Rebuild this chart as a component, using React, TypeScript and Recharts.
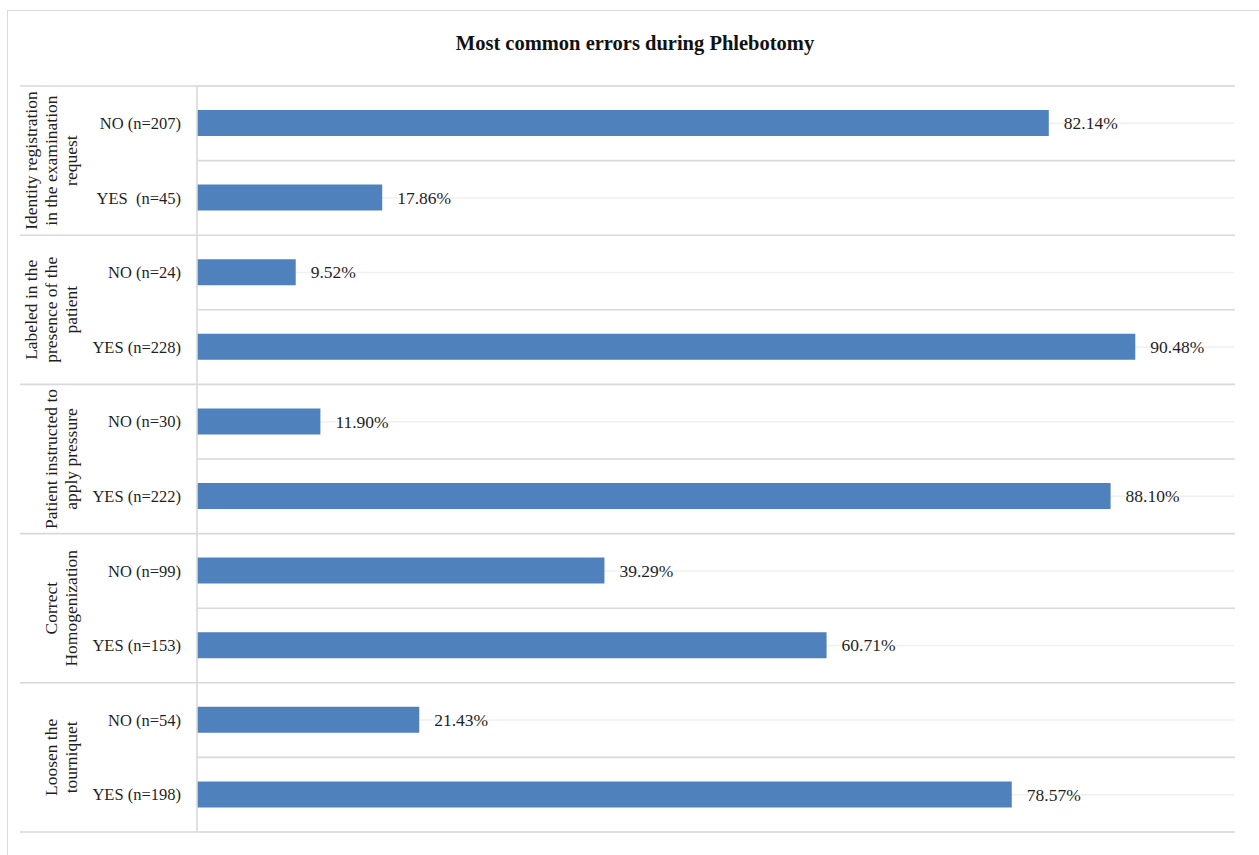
import React from "react";
import { BarChart, Bar, XAxis, YAxis, CartesianGrid, LabelList } from "recharts";

const categories = [
  "NO (n=207)",
  "YES  (n=45)",
  "NO (n=24)",
  "YES (n=228)",
  "NO (n=30)",
  "YES (n=222)",
  "NO (n=99)",
  "YES (n=153)",
  "NO (n=54)",
  "YES (n=198)",
];
const percentages = [82.14, 17.86, 9.52, 90.48, 11.9, 88.1, 39.29, 60.71, 21.43, 78.57];
const groupLabels = [
  ["Identity registration", "in the examination", "request"],
  ["Labeled in the", "presence of the", "patient"],
  ["Patient instructed to", "apply pressure"],
  ["Correct", "Homogenization"],
  ["Loosen the", "tourniquet"],
];
const title = "Most common errors during Phlebotomy";

const data = categories.map((c, i) => ({ key: c, value: percentages[i] }));

const W = 1259;
const H = 855;
const MARGIN = { top: 86, right: 25, bottom: 23, left: 0 };
const AXIS_W = 197;
const PLOT_RIGHT = W - MARGIN.right + 1;
const ROW_H = (H - MARGIN.top - MARGIN.bottom) / categories.length;
const FONT = "'Liberation Serif', 'DejaVu Serif', serif";
const TEXT = "#1f1f1f";
const DARK_LINE = "#d9d9d9";
const LIGHT_LINE = "#f0f0f0";

const RowTick = (props: any) => {
  const { x, y, payload } = props;
  const idx = categories.indexOf(payload.value);
  const nodes: React.ReactNode[] = [];
  const isGroupStart = idx % 2 === 0;
  nodes.push(
    <line
      key="lt"
      x1={isGroupStart ? 20 : AXIS_W}
      x2={PLOT_RIGHT}
      y1={y - ROW_H / 2}
      y2={y - ROW_H / 2}
      stroke={DARK_LINE}
      strokeWidth={1.6}
    />
  );
  if (idx === categories.length - 1) {
    nodes.push(
      <line key="lb" x1={20} x2={PLOT_RIGHT} y1={y + ROW_H / 2} y2={y + ROW_H / 2} stroke={DARK_LINE} strokeWidth={1.6} />
    );
  }
  nodes.push(
    <text
      key="t"
      x={x}
      y={y}
      dy="0.35em"
      textAnchor="end"
      fontFamily={FONT}
      fontSize={16.5}
      fill={TEXT}
      style={{ whiteSpace: "pre" }}
    >
      {payload.value}
    </text>
  );
  if (isGroupStart) {
    const g = groupLabels[idx / 2];
    const cy = y + ROW_H / 2;
    const n = g.length;
    g.forEach((line, k) => {
      const cx = 71 - (n - 1 - k) * 20;
      nodes.push(
        <text
          key={"g" + k}
          x={cx}
          y={cy}
          transform={`rotate(-90, ${cx}, ${cy})`}
          textAnchor="middle"
          dy="0.35em"
          fontFamily={FONT}
          fontSize={17.5}
          fill={TEXT}
        >
          {line}
        </text>
      );
    });
  }
  return <g>{nodes}</g>;
};

export default function App() {
  return (
    <div style={{ position: "fixed", left: 0, top: 0, width: W, height: H, overflow: "hidden", background: "#fff" }}>
      <div
        style={{
          position: "absolute",
          left: 7,
          top: 10,
          width: W + 10,
          height: H + 10,
          borderLeft: `1.5px solid ${DARK_LINE}`,
          borderTop: `1.5px solid ${DARK_LINE}`,
        }}
      />
      <div
        style={{
          position: "absolute",
          left: 0,
          top: 30,
          width: 1270,
          textAlign: "center",
          fontFamily: FONT,
          fontWeight: "bold",
          fontSize: 20.5,
          lineHeight: "26px",
          color: "#111",
        }}
      >
        {title}
      </div>
      <div style={{ position: "absolute", left: 0, top: 0 }}>
        <BarChart width={W} height={H} data={data} layout="vertical" margin={MARGIN}>
          <CartesianGrid horizontal vertical={false} stroke={LIGHT_LINE} strokeWidth={1.5} />
          <XAxis type="number" domain={[0, 100]} hide />
          <YAxis
            type="category"
            dataKey="key"
            width={AXIS_W}
            tickLine={false}
            tickSize={0}
            tickMargin={16}
            axisLine={{ stroke: DARK_LINE, strokeWidth: 1.6 }}
            tick={<RowTick />}
            interval={0}
          />
          <Bar dataKey="value" fill="#4f81bd" barSize={26} isAnimationActive={false}>
            <LabelList
              dataKey="value"
              position="right"
              offset={15}
              formatter={(v: any) => Number(v).toFixed(2) + "%"}
              fontFamily={FONT}
              fontSize={17.5}
              fill={TEXT}
            />
          </Bar>
        </BarChart>
      </div>
    </div>
  );
}
